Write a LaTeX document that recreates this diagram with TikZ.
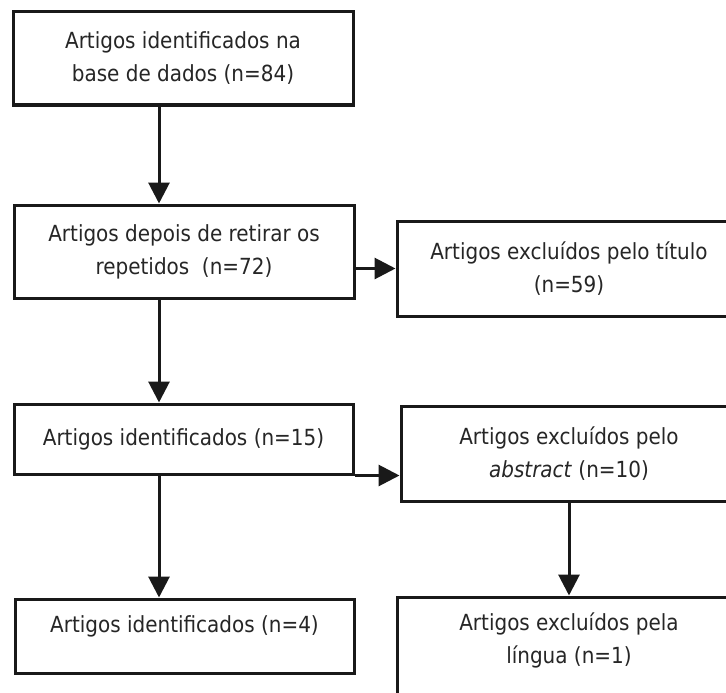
\documentclass[tikz,border=0pt]{standalone}
\usepackage{fontspec}
\setmainfont{DejaVu Sans Condensed}
\usetikzlibrary{arrows.meta, positioning, calc}

\begin{document}
\begin{tikzpicture}[x=1pt, y=-1pt,
            box/.style={rectangle, draw=black!90, line width=3pt, fill=white, align=center, text=black!85,
                        font={\fontsize{22.2pt}{33pt}\selectfont}},
            arrow/.style={-{Triangle[length=21pt, width=21pt]}, line width=3pt, black!90}
        ]
            \useasboundingbox (0,0) rectangle (726,693);
            \clip (0,0) rectangle (726,693);
            \fill[white] (0,0) rectangle (726,693);

            % left column
            \node[box, minimum width=340pt, minimum height=93pt] (found) at (183, 58.5) {Artigos identificados na\\base de dados (n=84)};
            \node[box, minimum width=340pt, minimum height=93pt] (nodup) at (184, 251.5) {Artigos depois de retirar os\\repetidos~ (n=72)};
            \node[box, minimum width=339pt, minimum height=70pt] (ident15) at (183.5, 439) {Artigos identificados (n=15)};
            \node[box, minimum width=339pt, minimum height=74pt, text depth=24pt] (ident4) at (184.5, 636) {Artigos identificados (n=4)};

            % right column
            \node[box, minimum width=344pt, minimum height=95pt] (extitle) at (569, 268.5) {Artigos excluídos pelo título\\(n=59)};
            \node[box, minimum width=336pt, minimum height=95pt] (exabs) at (569, 453.5) {Artigos excluídos pelo\\\textit{abstract} (n=10)};
            \node[box, minimum width=344pt, minimum height=103pt, text depth=20pt] (exlang) at (569, 648.5) {Artigos excluídos pela\\língua (n=1)};

            \coordinate (spine) at (159, 0);

            \draw[arrow] (spine |- found.south) -- (spine |- nodup.north);
            \draw[arrow] (spine |- nodup.south) -- (spine |- ident15.north);
            \draw[arrow] (spine |- ident15.south) -- (spine |- ident4.north);
            \draw[arrow] (nodup.east |- extitle.west) -- (extitle.west);
            \draw[arrow] (ident15.south east) -- (ident15.south east -| exabs.west);
            \draw[arrow] (exabs.south) -- (exlang.north);
        \end{tikzpicture}
\end{document}
